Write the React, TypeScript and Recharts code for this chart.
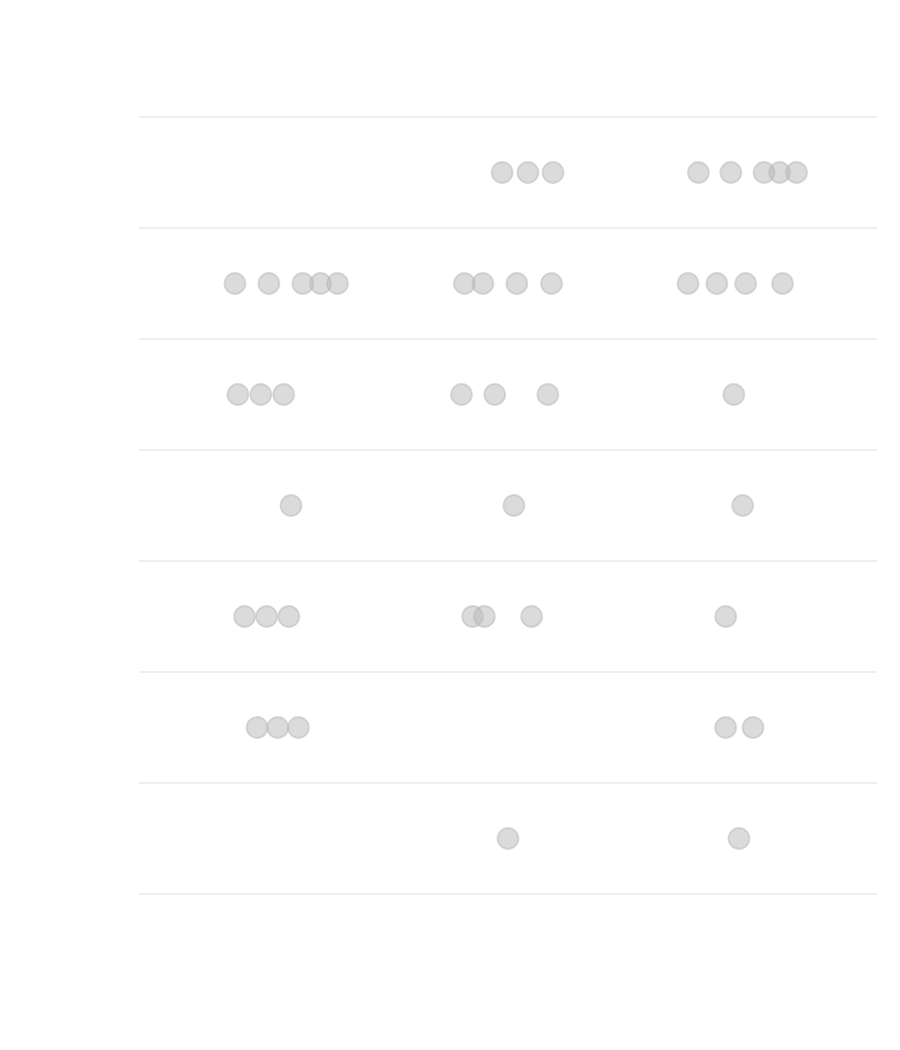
import { ScatterChart, Scatter, XAxis, YAxis, CartesianGrid } from "recharts";

// one list per row, top to bottom (x position on a 0-100 scale)
const row1 = [49.2, 52.7, 56.1, 75.8, 80.2, 84.7, 86.8, 89.1];
const row2 = [13.0, 17.6, 22.2, 24.6, 26.9, 44.1, 46.6, 51.2, 55.9, 74.4, 78.3, 82.2, 87.2];
const row3 = [13.4, 16.5, 19.6, 43.7, 48.2, 55.4, 80.6];
const row4 = [20.6, 50.8, 81.8];
const row5 = [14.3, 17.3, 20.3, 45.2, 46.8, 53.2, 79.5];
const row6 = [16.0, 18.8, 21.6, 79.5, 83.2];
const row7 = [50.0, 81.3];

const rows = [row1, row2, row3, row4, row5, row6, row7];
const rowTicks = [0, 1, 2, 3, 4, 5, 6, 7];

const points = rows.flatMap((values, i) =>
  values.map((x) => ({ x, row: i + 0.5 }))
);

const Dot = (props: any) => {
  const { cx, cy } = props;
  if (cx == null || cy == null) return null;
  return (
    <circle
      cx={cx}
      cy={cy}
      r={10.5}
      fill="#b8b8b8"
      fillOpacity={0.5}
      stroke="#b8b8b8"
      strokeOpacity={0.5}
      strokeWidth={1.8}
    />
  );
};

export default function App() {
  return (
    <ScatterChart
      width={892}
      height={1034}
      margin={{ top: 109, right: 23, bottom: 148, left: 131 }}
    >
      <CartesianGrid vertical={false} stroke="#e8e8e8" strokeWidth={1.5} />
      <XAxis type="number" dataKey="x" domain={[0, 100]} hide />
      <YAxis
        type="number"
        dataKey="row"
        domain={[0, 7]}
        ticks={rowTicks}
        reversed
        hide
      />
      <Scatter data={points} shape={Dot} isAnimationActive={false} />
    </ScatterChart>
  );
}
